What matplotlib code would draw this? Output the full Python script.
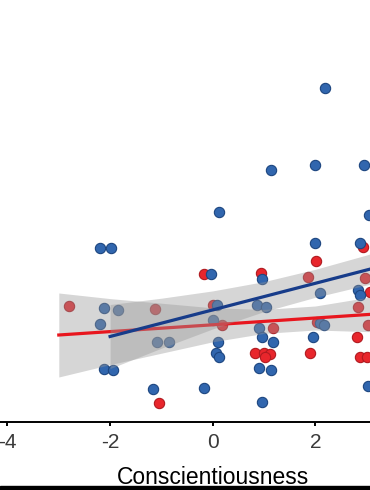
import numpy as np
import matplotlib.pyplot as plt
from matplotlib.patches import Rectangle

plt.rcParams['font.family'] = ['Liberation Sans', 'DejaVu Sans']
plt.rcParams['axes.unicode_minus'] = False

# Jittered points (x = conscientiousness, y = outcome, arbitrary units)
blue_x = [-2.20, -1.99, -2.11, -1.85, -2.19, -1.09, -0.85, -2.11, -1.94, -1.16,
          2.19, 1.14, 1.99, 2.95, 0.12, 3.05, 1.99, 2.87, -0.03, 0.97,
          2.09, 2.84, 2.88, 0.08, 0.86, 1.04, 0.01, 0.91, 2.09, 2.16,
          0.11, 0.97, 1.18, 1.96, 0.06, 0.12, 0.90, 1.14, -0.17, 0.96, 3.03]
blue_y = [17.4, 17.4, 11.43, 11.2, 9.77, 8.0, 8.0, 5.3, 5.2, 3.3,
          33.37, 25.2, 25.7, 25.7, 20.97, 20.7, 17.87, 17.87, 14.8, 14.3,
          12.93, 13.2, 12.7, 11.7, 11.7, 11.53, 10.2, 9.37, 9.87, 9.7,
          8.03, 8.47, 8.03, 8.47, 6.87, 6.47, 5.37, 5.2, 3.37, 2.03, 3.6]

red_x = [-2.80, -1.12, -1.05, 2.92, 2.01, -0.17, 0.94, 1.86, 2.97, 2.84,
         0.01, 0.18, 1.18, 2.03, 3.03, 2.82, 0.82, 1.00, 1.12, 1.02,
         1.90, 2.87, 3.00, 3.07]
red_y = [11.6, 11.27, 1.87, 17.5, 16.13, 14.8, 14.87, 14.47, 14.37, 11.53,
         11.7, 9.7, 9.37, 10.03, 9.7, 8.53, 6.87, 6.87, 6.8, 6.47,
         6.93, 6.53, 6.53, 13.0]

# Fitted lines with confidence bands, read at integer x
blue_fit_x = [-2, -1, 0, 1, 2, 3, 4]
blue_fit = [8.55, 9.88, 11.21, 12.54, 13.87, 15.2, 16.53]
blue_lo = [5.35, 7.38, 9.31, 11.04, 12.47, 13.7, 14.73]
blue_hi = [11.75, 12.38, 13.11, 14.04, 15.27, 16.7, 18.33]

red_fit_x = [-3, -2, -1, 0, 1, 2, 3, 4]
red_fit = [8.7, 9.04, 9.38, 9.72, 10.06, 10.4, 10.74, 11.08]
red_lo = [4.5, 5.74, 6.88, 8.02, 8.86, 9.2, 9.04, 9.08]
red_hi = [12.9, 12.34, 11.88, 11.42, 11.26, 11.6, 12.44, 13.08]

xticks = [-4, -2, 0, 2]

fig = plt.figure(figsize=(3.7, 4.9), dpi=100)
ax = fig.add_axes([0, 1 - 422 / 490, 1, 422 / 490])

ax.scatter(red_x, red_y, s=55, color='#E8262C', edgecolors='#B01A20',
           linewidths=0.8, zorder=2)
ax.scatter(blue_x, blue_y, s=55, color='#3166AE', edgecolors='#1D4680',
           linewidths=0.8, zorder=2)

ax.fill_between(red_fit_x, red_lo, red_hi, color='#999999', alpha=0.4,
                linewidth=0, zorder=3)
ax.plot(red_fit_x, red_fit, color='#E8161E', linewidth=2.3, zorder=4)
ax.fill_between(blue_fit_x, blue_lo, blue_hi, color='#999999', alpha=0.4,
                linewidth=0, zorder=5)
ax.plot(blue_fit_x, blue_fit, color='#173C8A', linewidth=2.3, zorder=6)

ax.set_xlim(-4.146, 3.066)
ax.set_ylim(0, 42.2)
ax.set_xticks(xticks)
ax.set_xticklabels([str(t) for t in xticks])
ax.set_yticks([])
for side in ['left', 'top', 'right']:
    ax.spines[side].set_visible(False)
ax.spines['bottom'].set_linewidth(1.4)
ax.tick_params(axis='x', length=3, width=1.4, pad=5, labelsize=15,
               labelcolor='#3a3a3a')

ax.set_xlabel('Conscientiousness', fontsize=16.5, va='baseline')
ax.xaxis.set_label_coords(212.5 / 370, 1 - 484 / 490, transform=fig.transFigure)

# dark strip along the bottom edge
fig.patches.append(Rectangle((0, 0), 1, 4 / 490, transform=fig.transFigure,
                             color='black', zorder=10))

fig.savefig('out.png', dpi=100)
